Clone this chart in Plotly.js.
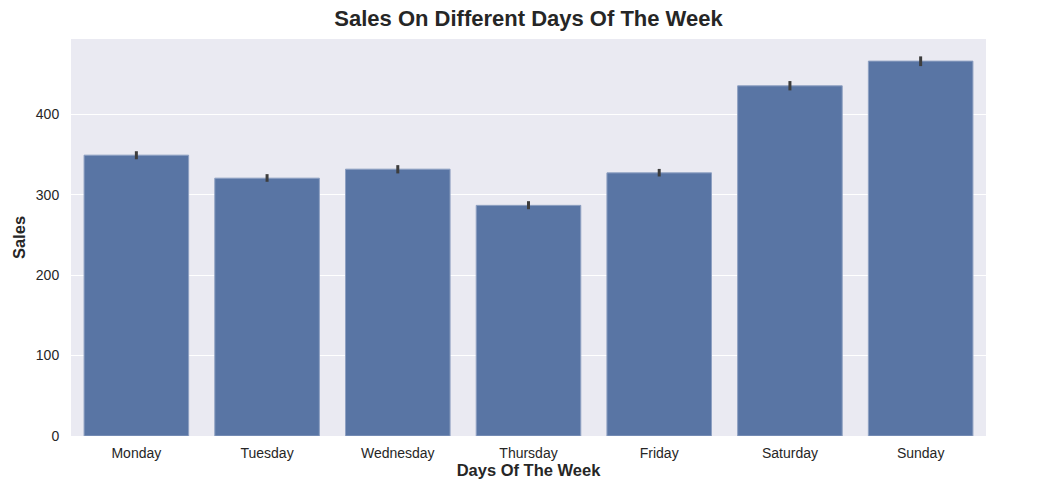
<!DOCTYPE html>
<html>
<head>
<meta charset="utf-8">
<script src="https://cdn.plot.ly/plotly-3.0.1.min.js"></script>
<style>body{margin:0;background:#fff;} #chart{width:1061px;height:495px;}</style>
</head>
<body>
<div id="chart"></div>
<script>
// average sales per day
var days = ["Monday", "Tuesday", "Wednesday", "Thursday", "Friday", "Saturday", "Sunday"];
var sales = [349.1, 320.5, 331.7, 286.7, 327.1, 435.3, 466.0];
var ciUpper = [354.0, 325.5, 336.7, 291.9, 332.0, 441.2, 471.9];
var ciLower = [344.0, 316.0, 326.4, 281.9, 322.6, 429.6, 459.8];

var errPlus = [], errMinus = [];
for (var i = 0; i < sales.length; i++) {
    errPlus.push(ciUpper[i] - sales[i]);
    errMinus.push(sales[i] - ciLower[i]);
}

var font = "Liberation Sans, Arial, sans-serif";

var trace = {
    type: "bar",
    x: days,
    y: sales,
    marker: {color: "#5975a4", line: {color: "#8ea0c2", width: 1}},
    width: 0.8,
    error_y: {
        type: "data",
        symmetric: false,
        array: errPlus,
        arrayminus: errMinus,
        width: 0,
        thickness: 3,
        color: "#3d3d3d"
    },
    hoverinfo: "x+y"
};

var layout = {
    width: 1061,
    height: 495,
    margin: {l: 71, r: 75, t: 39, b: 59},
    paper_bgcolor: "#ffffff",
    plot_bgcolor: "#eaeaf2",
    font: {family: font, size: 14, color: "#262626"},
    title: {
        text: "<b>Sales On Different Days Of The Week</b>",
        font: {family: font, size: 22, color: "#262626"},
        x: 0.5, xanchor: "center", xref: "paper",
        y: 0.963, yanchor: "middle"
    },
    xaxis: {
        title: {text: "<b>Days Of The Week</b>", font: {size: 16.5, color: "#262626"}, standoff: 1},
        range: [-0.5, 6.5],
        showgrid: false,
        zeroline: false,
        ticks: "outside", ticklen: 4, tickcolor: "rgba(0,0,0,0)",
        tickfont: {size: 14, color: "#262626"},
        fixedrange: true
    },
    yaxis: {
        title: {text: "<b>Sales</b>", font: {size: 16.5, color: "#262626"}, standoff: 6},
        range: [0, 493.5],
        tickvals: [0, 100, 200, 300, 400],
        showgrid: true,
        gridcolor: "#ffffff",
        gridwidth: 1.2,
        zeroline: false,
        ticks: "outside", ticklen: 8, tickcolor: "rgba(0,0,0,0)",
        tickfont: {size: 14, color: "#262626"},
        fixedrange: true
    },
    bargap: 0.2,
    showlegend: false
};

Plotly.newPlot("chart", [trace], layout, {displayModeBar: false, staticPlot: true});
</script>
</body>
</html>
